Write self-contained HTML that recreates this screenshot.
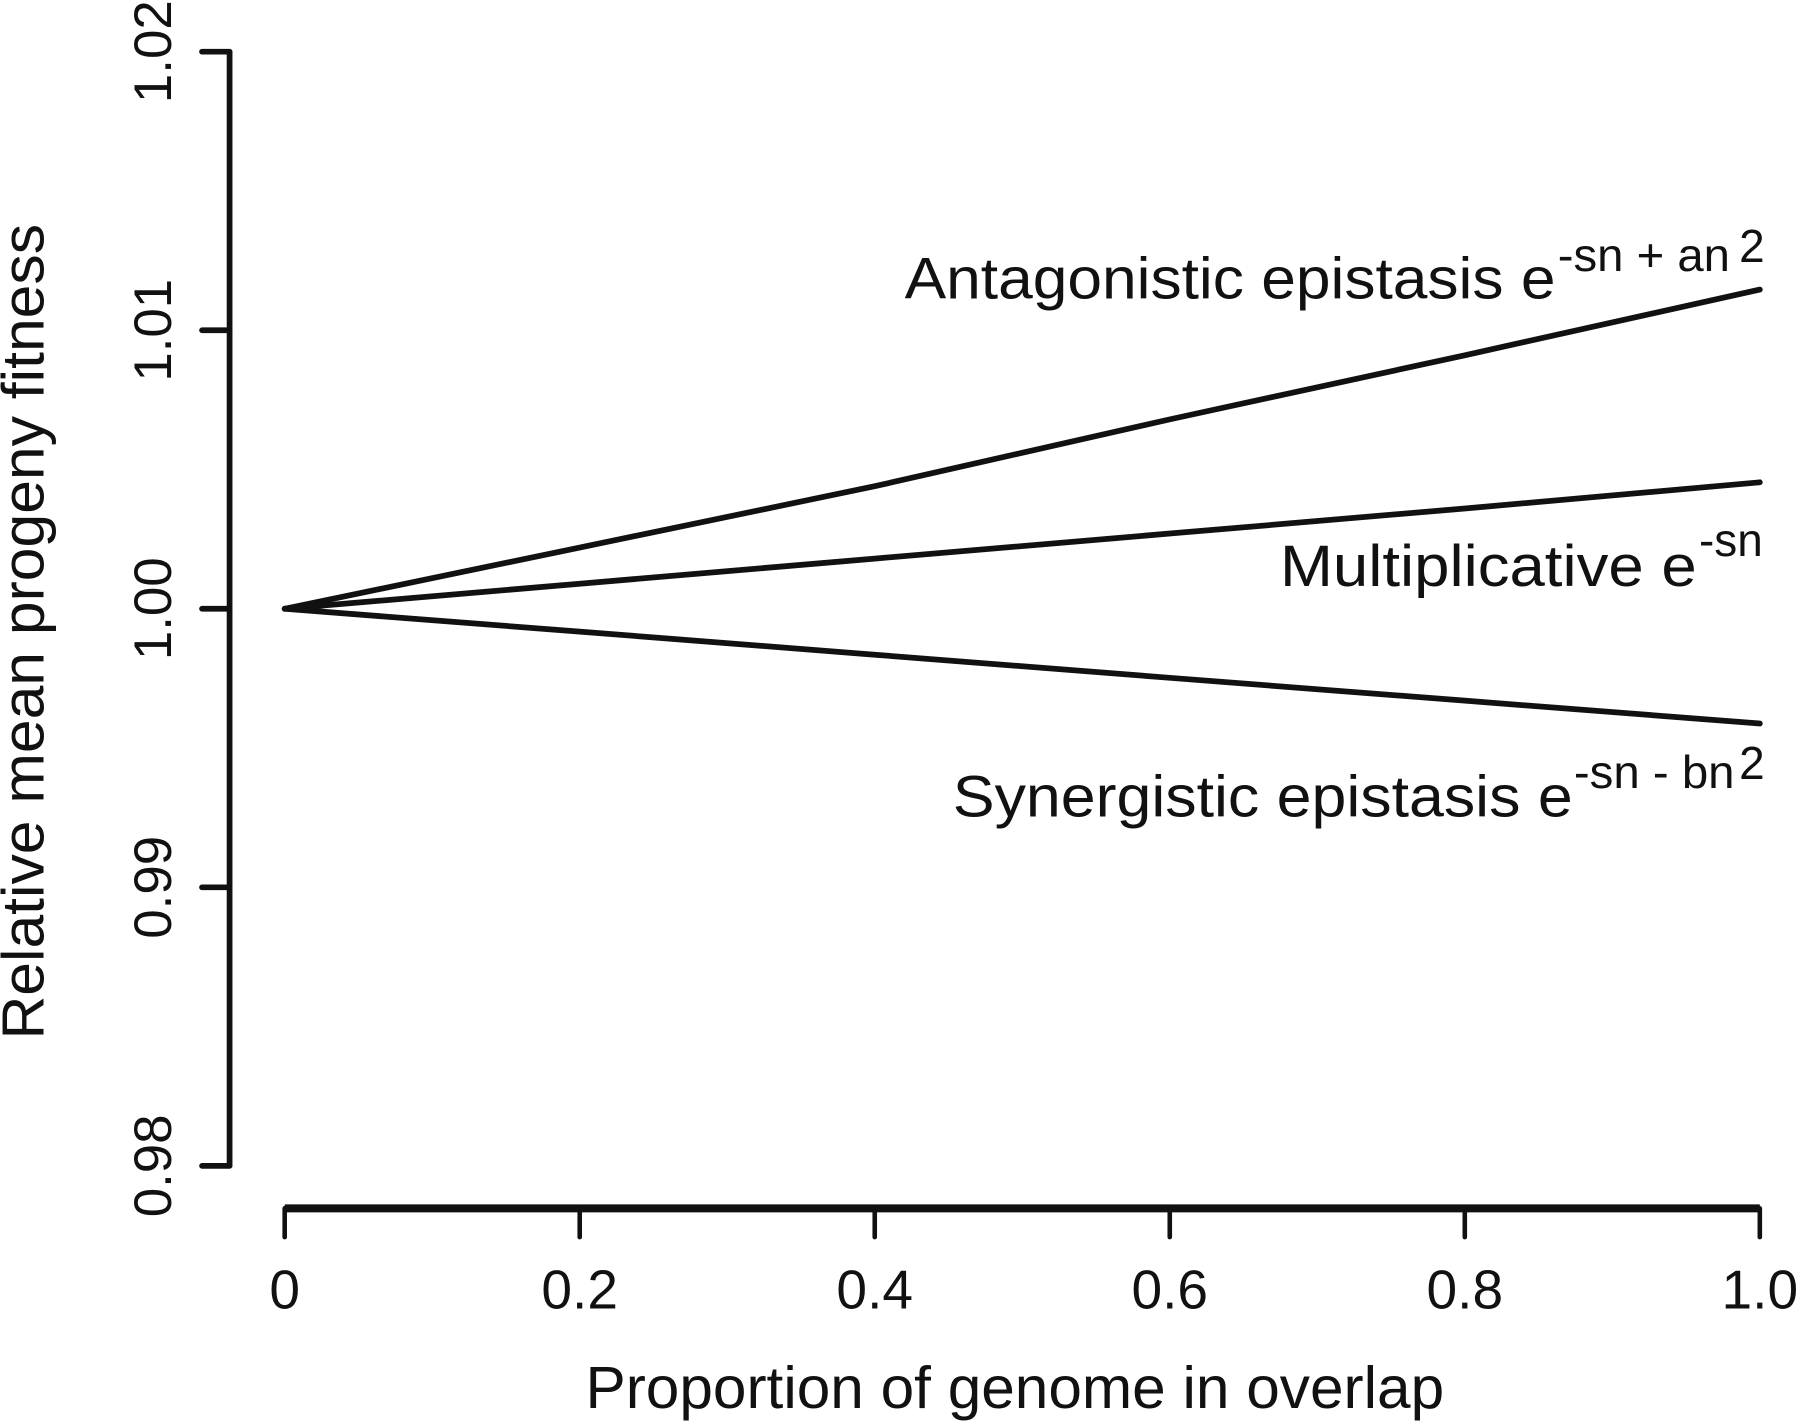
<!DOCTYPE html>
<html><head><meta charset="utf-8"><style>
html,body{margin:0;padding:0;background:#fff;}
svg{display:block;font-family:"Liberation Sans",Arial,sans-serif;}
</style></head><body>
<svg id="chart" width="1800" height="1422" viewBox="0 0 1568 1238" preserveAspectRatio="none" xmlns="http://www.w3.org/2000/svg">
<g id="axes"></g>
<g id="series"></g>
<text x="884" y="1226" font-size="52" text-anchor="middle" fill="#111" textLength="748" lengthAdjust="spacingAndGlyphs">Proportion of genome in overlap</text>
<text transform="translate(38,550) rotate(-90)" font-size="52" text-anchor="middle" fill="#111" textLength="710" lengthAdjust="spacingAndGlyphs">Relative mean progeny fitness</text>
<text x="788" y="260" font-size="51" fill="#111" textLength="567" lengthAdjust="spacingAndGlyphs">Antagonistic epistasis  e</text>
<text x="1357" y="236" font-size="40" fill="#111" textLength="150" lengthAdjust="spacingAndGlyphs">-sn + an</text>
<text x="1515" y="228" font-size="40" fill="#111">2</text>
<text x="1115" y="510" font-size="51" fill="#111" textLength="363" lengthAdjust="spacingAndGlyphs">Multiplicative  e</text>
<text x="1480" y="484" font-size="40" fill="#111">-sn</text>
<text x="830" y="711" font-size="51" fill="#111" textLength="540" lengthAdjust="spacingAndGlyphs">Synergistic epistasis  e</text>
<text x="1371" y="686" font-size="40" fill="#111" textLength="140" lengthAdjust="spacingAndGlyphs">-sn - bn</text>
<text x="1515" y="678" font-size="40" fill="#111">2</text>
</svg>
<script>
const xTicks = [0, 0.2, 0.4, 0.6, 0.8, 1.0];
const xTickLabels = ["0", "0.2", "0.4", "0.6", "0.8", "1.0"];
const yTicks = [0.98, 0.99, 1.00, 1.01, 1.02];
const yTickLabels = ["0.98", "0.99", "1.00", "1.01", "1.02"];
const xValues = [0, 0.2, 0.4, 0.6, 0.8, 1.0];
const antagonistic = [1.0, 1.0022, 1.0044, 1.0068, 1.0091, 1.01146];
const multiplicative = [1.0, 1.0009, 1.0018, 1.0027, 1.0036, 1.00454];
const synergistic = [1.0, 0.99918, 0.99835, 0.99752, 0.99670, 0.99588];
const seriesNames = ["antagonistic-line", "multiplicative-line", "synergistic-line"];

const NS = "http://www.w3.org/2000/svg";
function sx(v){ return 248 + (v - 0) / 1 * (1533 - 248); }
function sy(v){ return 1015 - (v - 0.98) / 0.04 * (1015 - 45); }
function mk(tag, attrs, parent){
  const e = document.createElementNS(NS, tag);
  for (const k in attrs) e.setAttribute(k, attrs[k]);
  parent.appendChild(e); return e;
}
const axes = document.getElementById('axes');
const series = document.getElementById('series');

let yl = mk('line', {x1:200, x2:200, y1:sy(1.02), y2:sy(0.98), stroke:'#111', 'stroke-width':5}, axes);


yTicks.forEach((t, i) => {
  const tk = mk('line', {x1:176, x2:200, y1:sy(t), y2:sy(t), stroke:'#111', 'stroke-width':5, 'stroke-linecap':'round'}, axes);
  
  
  const tx = mk('text', {transform:'translate(149,' + sy(t) + ') rotate(-90)', 'font-size':46, 'text-anchor':'middle', fill:'#111'}, axes);
  tx.textContent = yTickLabels[i];
  
  
});
let xl = mk('line', {x1:sx(0), x2:sx(1), y1:1052, y2:1052, stroke:'#111', 'stroke-width':7}, axes);


xTicks.forEach((t, i) => {
  const tk = mk('line', {x1:sx(t), x2:sx(t), y1:1052, y2:1077, stroke:'#111', 'stroke-width':4, 'stroke-linecap':'round'}, axes);
  
  
  const tx = mk('text', {x:sx(t), y:1139, 'font-size':48, 'text-anchor':'middle', fill:'#111'}, axes);
  tx.textContent = xTickLabels[i];
  
  
});
[antagonistic, multiplicative, synergistic].forEach((vals, si) => {
  const d = vals.map((v, i) => (i ? 'L' : 'M') + sx(xValues[i]).toFixed(1) + ',' + sy(v).toFixed(1)).join(' ');
  const p = mk('path', {d:d, fill:'none', stroke:'#111', 'stroke-width':5, 'stroke-linejoin':'round', 'stroke-linecap':'round'}, series);
  
  
});
</script>
</body></html>
